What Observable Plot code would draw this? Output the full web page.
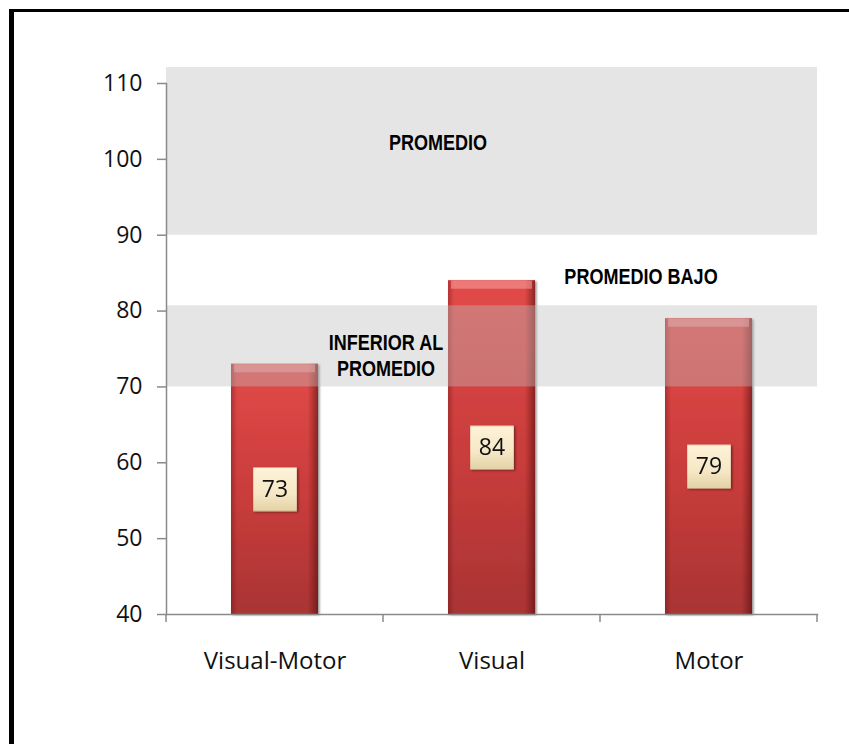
<!DOCTYPE html>
<html><head><meta charset="utf-8">
<script src="https://cdn.jsdelivr.net/npm/d3@7"></script>
<script src="https://cdn.jsdelivr.net/npm/@observablehq/plot@0.6"></script>
<style>
body{margin:0;background:#fff;}
#wrap{position:relative;width:849px;height:744px;overflow:hidden;background:#fff;}
#frame{position:absolute;left:9px;top:9px;width:900px;height:800px;border-left:5px solid #000;border-top:3px solid #000;box-sizing:border-box;pointer-events:none;}
.zone text{font-family:"Liberation Sans","Arial",sans-serif;font-weight:bold;}
</style></head><body>
<div id="wrap"><div id="chart"></div><div id="frame"></div></div>
<script>
// ---- data ----
const categories = ["Visual-Motor", "Visual", "Motor"];
const scores = [73, 84, 79];
const yTicks = [40, 50, 60, 70, 80, 90, 100, 110];
const yDomain = [40, 110];
// shaded classification bands
const bandLow = [90, 70];
const bandHigh = [112.1, 80.7];
// classification labels
const zoneNames = ["PROMEDIO", "PROMEDIO BAJO", "INFERIOR AL\nPROMEDIO"];
const zoneY = [102.3, 84.6, 74.2];
const zoneNearCat = ["Visual", "Motor", "Visual-Motor"];
const zoneShift = [-54, -68, 111];

const bars = categories.map((c, i) => ({cat: c, v: scores[i]}));
const bands = bandLow.map((lo, i) => ({lo, hi: bandHigh[i]}));
const zones = zoneNames.map((t, i) => ({t, y: zoneY[i], cat: zoneNearCat[i], dx: zoneShift[i]}));

const axisGray = "#8a8a8a";
const tickFont = "'Open Sans', sans-serif";

const defs = () => {
  const d = d3.create("svg:defs");
  const g1 = d.append("linearGradient").attr("id", "barGrad").attr("x1", 0).attr("y1", 0).attr("x2", 0).attr("y2", 1);
  g1.append("stop").attr("offset", "0%").attr("stop-color", "#e24a48");
  g1.append("stop").attr("offset", "55%").attr("stop-color", "#c83c3b");
  g1.append("stop").attr("offset", "100%").attr("stop-color", "#a93434");
  const g2 = d.append("linearGradient").attr("id", "edgeGrad").attr("x1", 0).attr("y1", 0).attr("x2", 1).attr("y2", 0);
  g2.append("stop").attr("offset", "0%").attr("stop-color", "#5a0c0c").attr("stop-opacity", 0.35);
  g2.append("stop").attr("offset", "7%").attr("stop-color", "#5a0c0c").attr("stop-opacity", 0);
  g2.append("stop").attr("offset", "88%").attr("stop-color", "#5a0c0c").attr("stop-opacity", 0);
  g2.append("stop").attr("offset", "100%").attr("stop-color", "#4a0808").attr("stop-opacity", 0.55);
  const g3 = d.append("linearGradient").attr("id", "boxGrad").attr("x1", 0).attr("y1", 0).attr("x2", 0).attr("y2", 1);
  g3.append("stop").attr("offset", "0%").attr("stop-color", "#fef2d8");
  g3.append("stop").attr("offset", "60%").attr("stop-color", "#f6e8c6");
  g3.append("stop").attr("offset", "100%").attr("stop-color", "#e2d2a6");
  const f = d.append("filter").attr("id", "shadow").attr("x", "-20%").attr("y", "-10%").attr("width", "140%").attr("height", "120%");
  f.append("feDropShadow").attr("dx", 1.5).attr("dy", 1).attr("stdDeviation", 1.2).attr("flood-color", "#000").attr("flood-opacity", 0.45);
  return d.node();
};

// category boundary ticks on the x axis
const boundaryTicks = (index, scales, values, dims) => {
  const x = scales.x, y = scales.y;
  const step = x.step(), bw = x.bandwidth();
  const y0 = y(yDomain[0]);
  const xs = categories.map(c => x(c) + bw / 2 - step / 2);
  xs.push(x(categories[categories.length - 1]) + bw / 2 + step / 2);
  const g = d3.create("svg:g").attr("stroke", axisGray).attr("stroke-width", 1.5);
  xs.forEach(px => g.append("line").attr("x1", px).attr("x2", px).attr("y1", y0).attr("y2", y0 + 8));
  return g.node();
};

const zoneMarks = zones.map(z => Plot.text([z], {x: "cat", y: "y", text: "t", dx: z.dx, fontSize: 22, lineHeight: 1.18, fill: "#000", className: "zone"}));

const chart = Plot.plot({
  width: 849,
  height: 744,
  marginLeft: 166,
  marginRight: 32,
  marginTop: 83,
  marginBottom: 130,
  style: {background: "#fff", overflow: "visible"},
  x: {domain: categories, paddingInner: 0.6, paddingOuter: 0.3, label: null},
  y: {domain: yDomain, label: null},
  marks: [
    defs,
    Plot.barY(bars, {x: "cat", y1: yDomain[0], y2: "v", fill: "url(#barGrad)", className: "bars"}),
    Plot.barY(bars, {x: "cat", y1: yDomain[0], y2: "v", fill: "url(#edgeGrad)"}),
    Plot.tickY(bars, {x: "cat", y: "v", stroke: "#f4a3a0", strokeOpacity: 0.55, strokeWidth: 8, dy: 4, insetLeft: 3, insetRight: 3}),
    Plot.rect(bands, {y1: "lo", y2: "hi", fill: "#bfbfbf", fillOpacity: 0.4}),
    ...zoneMarks,
    Plot.frame({anchor: "left", stroke: axisGray, strokeWidth: 1.5}),
    Plot.frame({anchor: "bottom", stroke: axisGray, strokeWidth: 1.5}),
    Plot.axisY({ticks: yTicks, tickSize: 9, tickPadding: 15, fontSize: 23, stroke: axisGray, strokeWidth: 1.5, fontFamily: tickFont, fill: "#111", tickFormat: d => d}),
    Plot.axisX({tickSize: 0, tickPadding: 37, fontSize: 24, fontFamily: tickFont, fill: "#111"}),
    boundaryTicks,
    Plot.dot(bars, {x: "cat", y: d => (yDomain[0] + d.v) / 2, symbol: "square", r: 24.6, fill: "url(#boxGrad)", stroke: "none", className: "vbox"}),
    Plot.text(bars, {x: "cat", y: d => (yDomain[0] + d.v) / 2, text: d => String(d.v), fontSize: 23, fontFamily: tickFont, fill: "#111"})
  ]
});

// condense the classification labels (narrow bold face)
d3.select(chart).selectAll("g.zone text").each(function() {
  const el = d3.select(this);
  const tr = el.attr("transform");
  if (tr) el.attr("transform", tr + " scale(0.82,1)");
});
d3.select(chart).selectAll("g.bars").attr("filter", "url(#shadow)");
d3.select(chart).selectAll("g.vbox").attr("filter", "url(#shadow)");
document.getElementById("chart").appendChild(chart);
</script>
</body></html>
